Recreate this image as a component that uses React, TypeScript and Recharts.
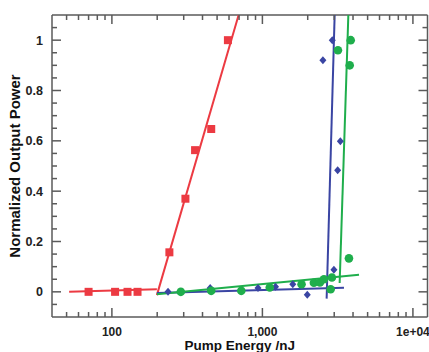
import React from 'react';
import { ComposedChart, Scatter, XAxis, YAxis } from 'recharts';

// measured points
const redX = [70, 105, 127, 148, 241, 308, 357, 457, 590];
const redY = [0, 0, 0, 0, 0.157, 0.37, 0.563, 0.647, 1.0];
const blueX = [236, 450, 935, 1222, 1592, 1986, 2986, 2523, 2912, 3162, 3295];
const blueY = [0, 0.015, 0.015, 0.02, 0.03, -0.012, 0.088, 0.92, 1.0, 0.483, 0.598];
const greenX = [287, 457, 724, 1119, 1820, 2198, 2410, 2564, 2840, 2897, 3758, 3175, 3802, 3861];
const greenY = [0, 0.004, 0.004, 0.017, 0.03, 0.036, 0.037, 0.05, 0.01, 0.057, 0.133, 0.96, 0.9, 1.0];

// fitted lines (end points)
const redFlatX = [52, 199];
const redFlatY = [0, 0.01];
const redSteepX = [199, 695];
const redSteepY = [-0.013, 1.1];
const blueFlatX = [199, 3483];
const blueFlatY = [-0.005, 0.016];
const blueSteepX = [2672, 3020];
const blueSteepY = [-0.027, 1.1];
const greenFlatX = [199, 4385];
const greenFlatY = [-0.01, 0.068];
const greenSteepX = [3260, 3724];
const greenSteepY = [0.035, 1.1];

// axes
const xMajorTicks = [100, 1000, 10000];
const xTickLabels = ['100', '1,000', '1e+04'];
const xMinorTicks = [50, 60, 70, 80, 90, 200, 300, 400, 500, 600, 700, 800, 900,
  2000, 3000, 4000, 5000, 6000, 7000, 8000, 9000];
const yMajorTicks = [0, 0.2, 0.4, 0.6, 0.8, 1];
const yTickLabels = ['0', '0.2', '0.4', '0.6', '0.8', '1'];
const yMinorTicks = [-0.05, 0.05, 0.1, 0.15, 0.25, 0.3, 0.35, 0.45, 0.5, 0.55,
  0.65, 0.7, 0.75, 0.85, 0.9, 0.95, 1.05];

const RED = '#ec3a42';
const BLUE = '#3a45a3';
const GREEN = '#1fae4c';
const AXIS = '#5a5a5a';
const FONT = '"Liberation Sans", Arial, sans-serif';

const pts = (xs: number[], ys: number[]) => xs.map((x, i) => ({ x, y: ys[i] }));

const xTicks = [...xMajorTicks, ...xMinorTicks].sort((a, b) => a - b);
const yTicks = [...yMajorTicks, ...yMinorTicks].sort((a, b) => a - b);

const isMajor = (list: number[], v: number) => list.some(m => Math.abs(m - v) < 1e-9);

const BottomTick = (props: any) => {
  const { x, y, payload } = props;
  const idx = xMajorTicks.findIndex(m => m === payload.value);
  const len = idx >= 0 ? 9 : 5;
  return (
    <g>
      <line x1={x} x2={x} y1={y} y2={y - len} stroke={AXIS} strokeWidth={1.5} />
      {idx >= 0 && (
        <text x={x} y={y + 19} textAnchor="middle" fontSize={12} fontWeight="bold"
          fontFamily={FONT} fill="#222">{xTickLabels[idx]}</text>
      )}
    </g>
  );
};

const TopTick = (props: any) => {
  const { x, y, payload } = props;
  const len = isMajor(xMajorTicks, payload.value) ? 9 : 5;
  return <line x1={x} x2={x} y1={y} y2={y + len} stroke={AXIS} strokeWidth={1.5} />;
};

const LeftTick = (props: any) => {
  const { x, y, payload } = props;
  const idx = yMajorTicks.findIndex(m => Math.abs(m - payload.value) < 1e-9);
  const len = idx >= 0 ? 9 : 5;
  return (
    <g>
      <line x1={x} x2={x + len} y1={y} y2={y} stroke={AXIS} strokeWidth={1.5} />
      {idx >= 0 && (
        <text x={x - 9} y={y + 4.5} textAnchor="end" fontSize={12.5} fontWeight="bold"
          fontFamily={FONT} fill="#222">{yTickLabels[idx]}</text>
      )}
    </g>
  );
};

const RightTick = (props: any) => {
  const { x, y, payload } = props;
  const len = isMajor(yMajorTicks, payload.value) ? 9 : 5;
  return <line x1={x} x2={x - len} y1={y} y2={y} stroke={AXIS} strokeWidth={1.5} />;
};

const Square = (p: any) => <rect x={p.cx - 4} y={p.cy - 4} width={8} height={8} fill={RED} />;
const Diamond = (p: any) => (
  <path d={`M${p.cx},${p.cy - 4} L${p.cx + 3.5},${p.cy} L${p.cx},${p.cy + 4} L${p.cx - 3.5},${p.cy} Z`} fill={BLUE} />
);
const Dot = (p: any) => <circle cx={p.cx} cy={p.cy} r={4.3} fill={GREEN} />;
const NoMark = () => <g />;

const fitLine = (xs: number[], ys: number[], color: string, key: string) => (
  <Scatter key={key} data={pts(xs, ys)} line={{ stroke: color, strokeWidth: 2 }}
    shape={NoMark} isAnimationActive={false} />
);

export default function App() {
  return (
    <div style={{ position: 'absolute', left: 0, top: 0 }}>
      <ComposedChart width={429} height={352} margin={{ top: 14, right: 0, bottom: 0, left: 0 }}>
        <XAxis dataKey="x" type="number" scale="log" domain={[40, 12500]} allowDataOverflow
          ticks={xTicks} interval={0} tickSize={0} tickMargin={0} tick={<BottomTick />}
          height={35} stroke={AXIS} strokeWidth={1.5}
          label={{ value: 'Pump Energy /nJ', position: 'insideBottom', offset: 2,
            style: { fontSize: 13.5, fontWeight: 'bold', fontFamily: FONT, fill: '#111' } }} />
        <XAxis xAxisId="top" orientation="top" dataKey="x" type="number" scale="log"
          domain={[40, 12500]} allowDataOverflow ticks={xTicks} interval={0}
          tickSize={0} tickMargin={0} tick={<TopTick />} height={1} stroke={AXIS} strokeWidth={1.5} />
        <YAxis dataKey="y" type="number" domain={[-0.1, 1.1]} allowDataOverflow
          ticks={yTicks} interval={0} tickSize={0} tickMargin={0} tick={<LeftTick />}
          width={52} stroke={AXIS} strokeWidth={1.5}
          label={{ value: 'Normalized Output Power', angle: -90, position: 'insideLeft', offset: 15,
            style: { textAnchor: 'middle', fontSize: 15, fontWeight: 'bold', fontFamily: FONT, fill: '#111' } }} />
        <YAxis yAxisId="right" orientation="right" dataKey="y" type="number" domain={[-0.1, 1.1]}
          allowDataOverflow ticks={yTicks} interval={0} tickSize={0} tickMargin={0}
          tick={<RightTick />} width={1.5} stroke={AXIS} strokeWidth={1.5} />

        {fitLine(redFlatX, redFlatY, RED, 'rf')}
        {fitLine(redSteepX, redSteepY, RED, 'rs')}
        {fitLine(blueFlatX, blueFlatY, BLUE, 'bf')}
        {fitLine(blueSteepX, blueSteepY, BLUE, 'bs')}
        {fitLine(greenFlatX, greenFlatY, GREEN, 'gf')}
        {fitLine(greenSteepX, greenSteepY, GREEN, 'gs')}

        <Scatter data={pts(redX, redY)} shape={Square} isAnimationActive={false} />
        <Scatter data={pts(blueX, blueY)} shape={Diamond} isAnimationActive={false} />
        <Scatter data={pts(greenX, greenY)} shape={Dot} isAnimationActive={false} />
      </ComposedChart>
    </div>
  );
}
